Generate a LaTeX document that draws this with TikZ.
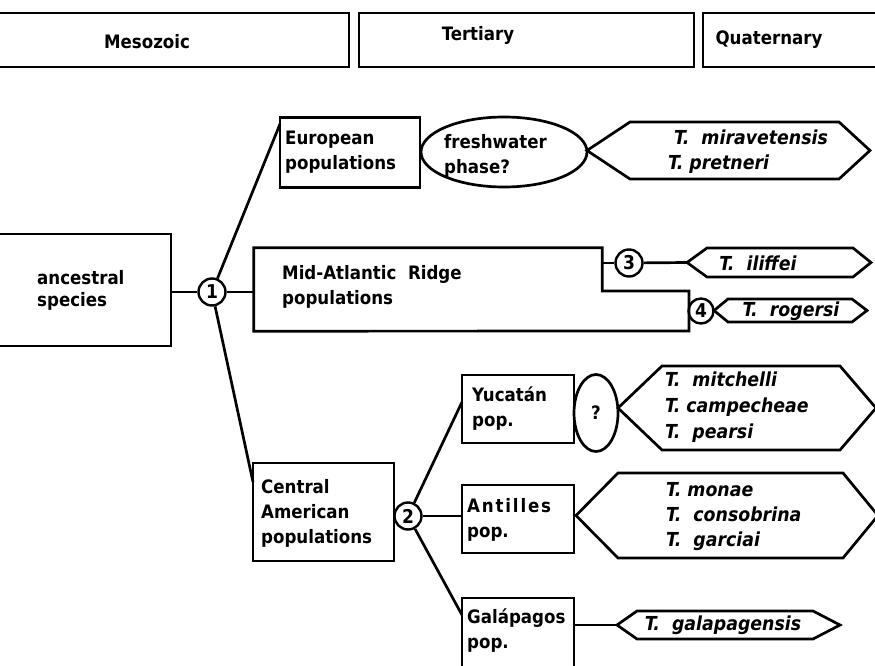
\documentclass[tikz,border=0pt]{standalone}
\usepackage{fontspec}
\setmainfont{DejaVu Sans Condensed}
\usetikzlibrary{shapes.geometric}
% #1 name of left tip, #2 left tip x, #3 left corners x, #4 right corners x, #5 right tip x, #6 top y, #7 bottom y
\newcommand\myhex[7]{%
  \draw[ln] (#2,{(#6+#7)/2}) -- (#3,#6) -- (#4,#6) -- (#5,{(#6+#7)/2}) -- (#4,#7) -- (#3,#7) -- cycle;
  \coordinate (#1) at (#2,{(#6+#7)/2});
}
\begin{document}
\begin{tikzpicture}[x=1pt,y=-1pt,
  every node/.style={font=\fontsize{18.5}{25}\selectfont\bfseries, inner sep=0pt},
  ln/.style={line width=2.7pt, line join=miter},
  boxn/.style={draw, rectangle, line width=2.7pt, inner sep=0pt},
  ovaln/.style={draw, ellipse, line width=2.7pt, inner sep=0pt},
  circn/.style={draw, circle, line width=2.4pt, minimum size=27pt, inner sep=0pt, font=\fontsize{19}{19}\selectfont\bfseries},
  lbl/.style={align=left, anchor=west},
  spn/.style={align=left, font=\fontsize{19.3}{25}\selectfont\bfseries\itshape},
]
\useasboundingbox (0,0) rectangle (875,666);

% header
\node[boxn, minimum width=354pt, minimum height=54pt] (meso) at (172,40) {};
\node (mesot) at (147,42) {Mesozoic};
\node[boxn, minimum width=335pt, minimum height=54pt] (tert) at (526.5,40) {};
\node (tertt) at (478,35) {Tertiary};
\node[boxn, minimum width=177pt, minimum height=54pt] (quat) at (791.5,40) {};
\node (quatt) at (769,40) {Quaternary};

% ancestral
\node[boxn, minimum width=176pt, minimum height=112pt] (anc) at (83,290) {};
\node[lbl, font=\fontsize{18.5}{22}\selectfont\bfseries] (anct) at (37,290) {ancestral\\species};
\node[circn] (c1) at (212,292) {1};
\draw[ln] (anc.east |- c1) -- (c1);

% Mid-Atlantic Ridge
\node[minimum width=348pt, minimum height=83pt] (mid) at (428,289.5) {};
\draw[ln] (mid.north west) -- (mid.north east) -- (mid.east |- 0,291) -- (689,291) -- (689,331) -- (mid.south west) -- cycle;
\node[lbl] (midt) at (282,287) {Mid-Atlantic\ \ Ridge\\populations};
\draw[ln] (c1) -- (c1 -| mid.west);
\node[circn] (c3) at (629,263) {3};
\draw[ln] (c3 -| mid.east) -- (c3);
\myhex{hil}{687}{707}{853}{871}{248}{277}
\draw[ln] (c3) -- (hil);
\node[spn] (ilt) at (758,263) {T.\ \ iliffei};
\node[circn, minimum size=25pt] (c4) at (701,311) {4};
\myhex{hro}{714}{728}{852}{867}{299}{322}
\draw[ln] (c4) -- (hro);
\node[spn] (rot) at (791,311) {T.\ \ rogersi};

% European
\node[boxn, minimum width=140pt, minimum height=70pt] (eu) at (350,152.5) {};
\node[lbl] (eut) at (285,152.5) {European\\populations};
\coordinate (euin) at (280,124);
\draw[ln] (c1) -- (euin);
\node[ovaln, minimum width=166pt, minimum height=70pt] (fw) at (504,152) {};
\node[lbl] (fwt) at (444,156) {freshwater\\phase?};
\myhex{hmi}{587}{630}{839}{870}{122}{179}
\node[spn, anchor=west] (mit) at (668,152) {\hspace{6pt}T.\ \ miravetensis\\T. pretneri};

% Central American
\node[boxn, minimum width=141pt, minimum height=98pt] (ca) at (323.5,512) {};
\node[lbl] (cat) at (261,513) {Central\\American\\populations};
\coordinate (cain) at (253,482);
\draw[ln] (c1) -- (cain);
\node[circn] (c2) at (408,516) {2};
\draw[ln] (ca.east |- c2) -- (c2);

% Yucatan
\node[boxn, minimum width=112pt, minimum height=68pt] (yu) at (518,409) {};
\node[lbl] (yut) at (472,409) {Yucatán\\pop.};
\coordinate (yuin) at (462,402);
\draw[ln] (c2) -- (yuin);
\node[ovaln, minimum width=44pt, minimum height=77pt] (q) at (596,413) {?};
\myhex{hyu}{618}{662}{840}{876}{366}{450}
\node[spn, anchor=west, font=\fontsize{19.3}{26}\selectfont\bfseries\itshape] (yus) at (665,407) {T.\ \ mitchelli\\T. campecheae\\T.\ \ pearsi};

% Antilles
\node[boxn, minimum width=112pt, minimum height=68pt] (an) at (518,519) {};
\node[lbl] (ant) at (467,520) {{\addfontfeature{LetterSpace=10}Antilles}\\pop.};
\draw[ln] (c2) -- (c2 -| an.west);
\myhex{han}{576}{618}{843}{878}{473}{558}
\node[spn, anchor=west] (ans) at (666,517) {T. monae\\T.\ \ consobrina\\T.\ \ garciai};

% Galapagos
\node[boxn, minimum width=112pt, minimum height=90pt] (ga) at (518,643) {};
\node[lbl] (gat) at (467,630.5) {Galápagos\\pop.};
\coordinate (gain) at (462,615);
\draw[ln] (c2) -- (gain);
\myhex{hga}{617}{637}{813}{840}{611}{639}
\draw[ln] (ga.east |- hga) -- (hga);
\node[spn] (gas) at (723,625) {T.\ \ galapagensis};
\end{tikzpicture}
\end{document}
